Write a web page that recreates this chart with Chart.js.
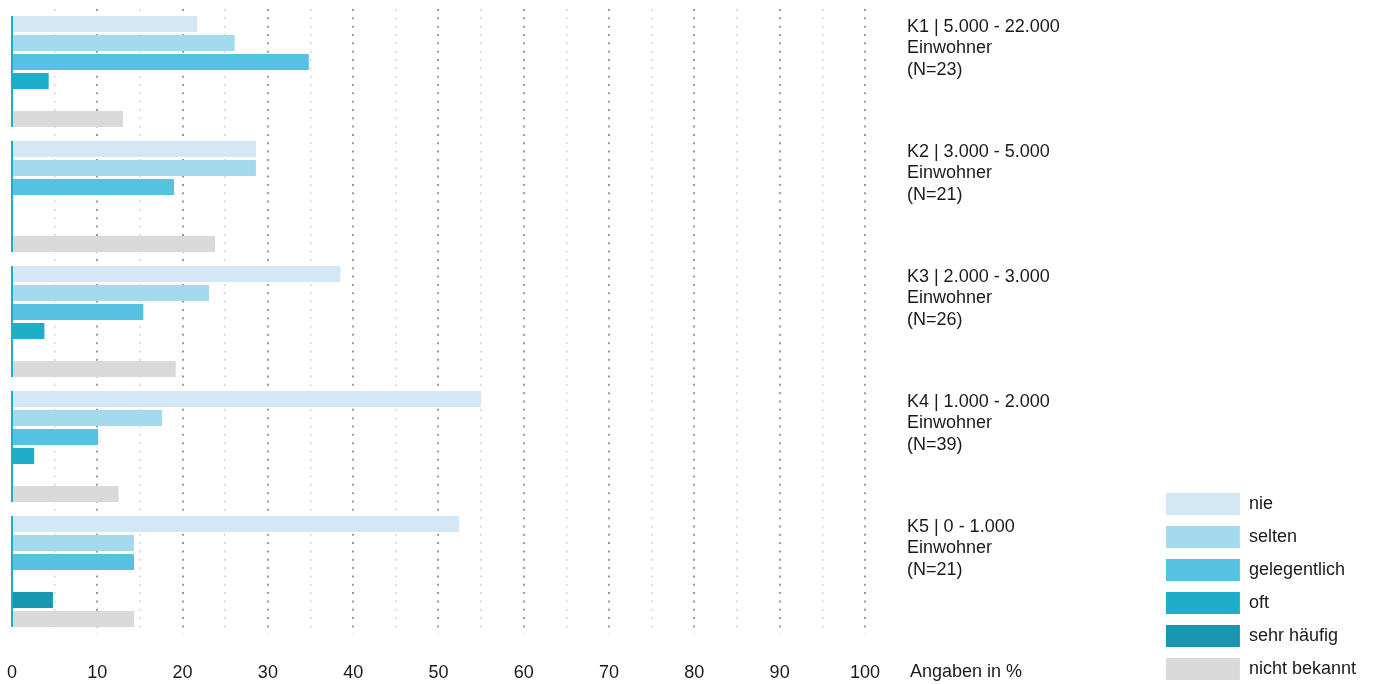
<!DOCTYPE html>
<html lang="de">

<head>
    <meta charset="UTF-8">
    <title>Angaben in %</title>
    <script src="https://cdn.jsdelivr.net/npm/chart.js"></script>
    <style>
        html, body { margin: 0; padding: 0; background: #fff; }
        #wrap { width: 1382px; height: 684px; position: relative; }
    </style>
</head>

<body>
    <div id="wrap">
        <canvas id="myChart"></canvas>
    </div>
    <script>
        // Gruppen (Kategorien) und Werte in %
        var categories = [
            ['K1 | 5.000 - 22.000', 'Einwohner', '(N=23)'],
            ['K2 | 3.000 - 5.000', 'Einwohner', '(N=21)'],
            ['K3 | 2.000 - 3.000', 'Einwohner', '(N=26)'],
            ['K4 | 1.000 - 2.000', 'Einwohner', '(N=39)'],
            ['K5 | 0 - 1.000', 'Einwohner', '(N=21)']
        ];
        var seriesNames = ['nie', 'selten', 'gelegentlich', 'oft', 'sehr häufig', 'nicht bekannt'];
        var nie = [21.7, 28.6, 38.5, 55.0, 52.4];
        var selten = [26.1, 28.6, 23.1, 17.6, 14.3];
        var gelegentlich = [34.8, 19.0, 15.4, 10.1, 14.3];
        var oft = [4.3, 0, 3.8, 2.6, 0];
        var sehrHaeufig = [0, 0, 0, 0, 4.8];
        var nichtBekannt = [13.0, 23.8, 19.2, 12.5, 14.3];
        var xTicks = [0, 10, 20, 30, 40, 50, 60, 70, 80, 90, 100];
        var axisTitle = 'Angaben in %';

        var colors = ['#d4e7f4', '#a4daee', '#56c2e2', '#1eaeca', '#1896b0', '#d9d9d9'];
        var values = [nie, selten, gelegentlich, oft, sehrHaeufig, nichtBekannt];

        Chart.defaults.font.family = "'Liberation Sans', Arial, sans-serif";
        Chart.defaults.font.size = 18;
        Chart.defaults.color = '#1a1a1a';

        // senkrechte Linie je Gruppe + Achsentitel
        var extras = {
            id: 'extras',
            afterDatasetsDraw: function (chart) {
                var ctx = chart.ctx;
                var x0 = chart.scales.x.getPixelForValue(0);
                var first = chart.getDatasetMeta(0).data;
                var last = chart.getDatasetMeta(values.length - 1).data;
                ctx.save();
                ctx.strokeStyle = '#1eaeca';
                ctx.lineWidth = 2;
                for (var i = 0; i < categories.length; i++) {
                    var top = first[i].y - first[i].height / 2;
                    var bottom = last[i].y + last[i].height / 2;
                    ctx.beginPath();
                    ctx.moveTo(x0, top);
                    ctx.lineTo(x0, bottom);
                    ctx.stroke();
                }
                ctx.restore();
            },
            afterDraw: function (chart) {
                var ctx = chart.ctx;
                var xs = chart.scales.x;
                ctx.save();
                ctx.font = "18px 'Liberation Sans', Arial, sans-serif";
                ctx.fillStyle = '#1a1a1a';
                ctx.textBaseline = 'middle';
                ctx.textAlign = 'left';
                ctx.fillText(axisTitle, xs.getPixelForValue(100) + 45, xs.top + 27 + 11.5);
                ctx.restore();
            }
        };

        var ctx = document.getElementById('myChart');
        var myChart = new Chart(ctx, {
            type: 'bar',
            data: {
                labels: categories,
                datasets: seriesNames.map(function (name, i) {
                    return {
                        label: name,
                        data: values[i],
                        backgroundColor: colors[i],
                        borderWidth: 0,
                        barPercentage: 0.842,
                        categoryPercentage: 0.912
                    };
                })
            },
            plugins: [extras],
            options: {
                indexAxis: 'y',
                responsive: true,
                maintainAspectRatio: false,
                animation: false,
                layout: {
                    padding: { left: 12, top: 9, right: 16, bottom: -7 }
                },
                plugins: {
                    tooltip: { enabled: false },
                    legend: {
                        position: 'right',
                        align: 'end',
                        labels: {
                            boxWidth: 74,
                            boxHeight: 22,
                            padding: 11,
                            font: { size: 18 },
                            color: '#1a1a1a'
                        }
                    }
                },
                scales: {
                    x: {
                        min: 0,
                        max: 100,
                        afterBuildTicks: function (scale) {
                            var t = [];
                            xTicks.forEach(function (v, i) {
                                t.push({ value: v });
                                if (i < xTicks.length - 1) t.push({ value: v + 5 });
                            });
                            scale.ticks = t;
                        },
                        afterFit: function (scale) {
                            scale.height = 57;
                            scale.paddingLeft = 0;
                            scale.paddingRight = 0;
                        },
                        ticks: {
                            padding: 28,
                            maxRotation: 0,
                            autoSkip: false,
                            callback: function (v) {
                                return xTicks.indexOf(v) >= 0 ? String(v) : '';
                            }
                        },
                        grid: {
                            drawTicks: false,
                            color: function (c) {
                                if (!c.tick || c.tick.value === 0) return 'rgba(0,0,0,0)';
                                return c.tick.value % 10 === 0 ? '#9a9a9a' : '#d2d2d2';
                            },
                            lineWidth: function (c) {
                                return c.tick && c.tick.value % 10 === 0 ? 2 : 1.5;
                            }
                        },
                        border: {
                            display: false,
                            dash: [2, 6.33]
                        }
                    },
                    y: {
                        position: 'right',
                        afterFit: function (scale) {
                            scale.width = 290;
                            scale.paddingTop = 0;
                            scale.paddingBottom = 0;
                        },
                        grid: { display: false, drawTicks: false },
                        border: { display: false },
                        ticks: {
                            padding: 42,
                            labelOffset: -23,
                            font: { size: 18, lineHeight: 1.2 }
                        }
                    }
                }
            }
        });
    </script>

</body>

</html>
